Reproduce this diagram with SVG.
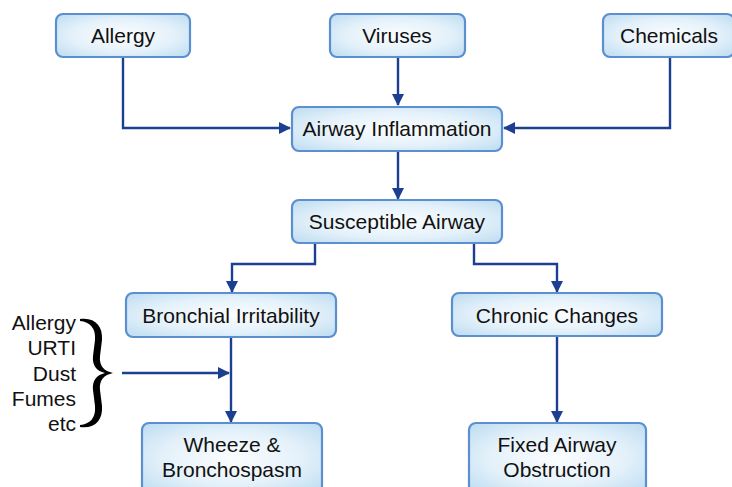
<svg xmlns="http://www.w3.org/2000/svg" width="732" height="487" viewBox="0 0 732 487">
  <style>
    .box { fill: url(#boxFill); stroke: #5b8fcf; stroke-width: 2.2; }
    .lbl { font-family: "Liberation Sans", Arial, sans-serif; font-size: 21px; fill: #111; text-anchor: middle; }
    .side { font-family: "Liberation Sans", Arial, sans-serif; font-size: 21px; fill: #111; text-anchor: end; }
    .conn { fill: none; stroke: #1c3f91; stroke-width: 2.4; marker-end: url(#arrow); }
  </style>
  <defs>
    <radialGradient id="boxFill" cx="50%" cy="50%" r="70%">
      <stop offset="0" stop-color="#fbfdff"/>
      <stop offset="0.55" stop-color="#e4f1fa"/>
      <stop offset="1" stop-color="#bcdcf1"/>
    </radialGradient>
    <marker id="arrow" viewBox="0 0 12 12" refX="11" refY="6" markerWidth="12" markerHeight="12" markerUnits="userSpaceOnUse" orient="auto">
      <path d="M0,0 L12,6 L0,12 Z" fill="#1c3f91"/>
    </marker>
  </defs>

  <!-- connectors -->
  <g id="connectors">
    <path class="conn" d="M123,57 V128 H290"/>
    <path class="conn" d="M398,57 V105"/>
    <path class="conn" d="M670,57 V128 H504"/>
    <path class="conn" d="M398,151 V199"/>
    <path class="conn" d="M315,243 V264 H232 V292"/>
    <path class="conn" d="M474,243 V264 H557 V292"/>
    <path class="conn" d="M231,337 V422"/>
    <path class="conn" d="M557,337 V422"/>
    <path class="conn" d="M122,373 H229"/>
  </g>

  <g id="allergy">
    <rect class="box" x="56" y="14" width="134" height="43" rx="7"/>
    <text class="lbl" x="123" y="43">Allergy</text>
  </g>
  <g id="viruses">
    <rect class="box" x="330" y="14" width="135" height="43" rx="7"/>
    <text class="lbl" x="397" y="43">Viruses</text>
  </g>
  <g id="chemicals">
    <rect class="box" x="603" y="14" width="131" height="43" rx="7"/>
    <text class="lbl" x="669" y="43">Chemicals</text>
  </g>
  <g id="airway-inflammation">
    <rect class="box" x="292" y="107" width="210" height="44" rx="7"/>
    <text class="lbl" x="397" y="136">Airway Inflammation</text>
  </g>
  <g id="susceptible-airway">
    <rect class="box" x="292" y="200" width="210" height="43" rx="7"/>
    <text class="lbl" x="397" y="229">Susceptible Airway</text>
  </g>
  <g id="bronchial-irritability">
    <rect class="box" x="126" y="293" width="210" height="44" rx="7"/>
    <text class="lbl" x="231" y="323">Bronchial Irritability</text>
  </g>
  <g id="chronic-changes">
    <rect class="box" x="452" y="293" width="210" height="43" rx="7"/>
    <text class="lbl" x="557" y="323">Chronic Changes</text>
  </g>
  <g id="wheeze">
    <rect class="box" x="142" y="423" width="180" height="70" rx="7"/>
    <text class="lbl" x="232" y="452">Wheeze &amp;</text>
    <text class="lbl" x="232" y="477">Bronchospasm</text>
  </g>
  <g id="fixed-obstruction">
    <rect class="box" x="469" y="423" width="177" height="70" rx="7"/>
    <text class="lbl" x="557" y="452">Fixed Airway</text>
    <text class="lbl" x="557" y="477">Obstruction</text>
  </g>

  <!-- triggers with brace -->
  <g id="triggers">
    <text class="side" x="76" y="330">Allergy</text>
    <text class="side" x="76" y="355">URTI</text>
    <text class="side" x="76" y="381">Dust</text>
    <text class="side" x="76" y="406">Fumes</text>
    <text class="side" x="76" y="431">etc</text>
    <path d="M80,319 C95,317 103,326 102,340 L100,356 C99,366 104,371 113,373 C104,375 99,380 100,390 L102,406 C103,420 95,429 80,427 L80,425 C90,424 96,418 95,406 L93,390 C92,380 97,375 105,373 C97,371 92,366 93,356 L95,340 C96,328 90,322 80,321 Z" fill="#000"/>
  </g>
</svg>
